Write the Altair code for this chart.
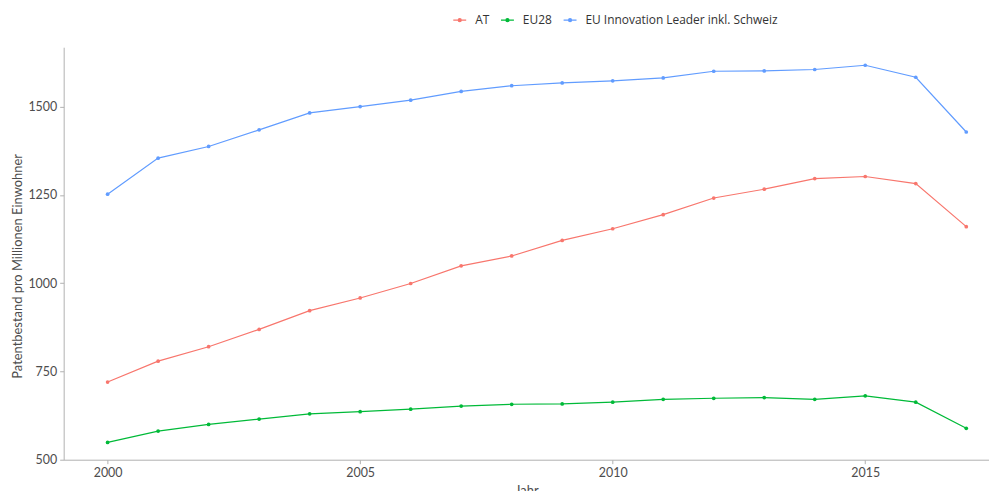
import altair as alt
import pandas as pd

years = list(range(2000, 2018))
series_names = ["AT", "EU28", "EU Innovation Leader inkl. Schweiz"]
at_values = [720, 779, 820, 869, 922, 958, 999, 1049, 1077, 1121, 1154, 1194, 1241, 1266, 1296, 1302, 1282, 1160]
eu28_values = [549, 581, 600, 615, 630, 636, 643, 652, 657, 658, 663, 671, 674, 676, 671, 681, 663, 589]
leader_values = [1252, 1354, 1387, 1434, 1482, 1500, 1518, 1543, 1559, 1567, 1573, 1581, 1600, 1601, 1605, 1617, 1583, 1428]
colors = ["#F8766D", "#00BA38", "#619CFF"]
y_ticks = [500, 750, 1000, 1250, 1500]
x_ticks = [2000, 2005, 2010, 2015]

rows = []
for name, vals in zip(series_names, [at_values, eu28_values, leader_values]):
    for yr, v in zip(years, vals):
        rows.append({"Jahr": yr, "Wert": v, "Gruppe": name})
df = pd.DataFrame(rows)

sym = "M-1,0H1M-0.23,0A0.23,0.23,0,1,0,0.23,0A0.23,0.23,0,1,0,-0.23,0"
legend = alt.Legend(
    title=None, orient="none", direction="horizontal", legendX=391, legendY=-35,
    symbolType=sym, symbolSize=169, symbolStrokeWidth=1.3,
    labelFont="Open Sans", labelFontSize=12, labelColor="#333333", labelLimit=400,
    labelOffset=8, columnPadding=8,
)
color = alt.Color("Gruppe:N", scale=alt.Scale(domain=series_names, range=colors), legend=legend)

x = alt.X("Jahr:Q", title="Jahr",
          scale=alt.Scale(domain=[1999.13, 2017.45], nice=False, zero=False),
          axis=alt.Axis(values=x_ticks, format="d"))
y = alt.Y("Wert:Q", title="Patentbestand pro Millionen Einwohner",
          scale=alt.Scale(domain=[500, 1668], nice=False, zero=False),
          axis=alt.Axis(values=y_ticks, format="d", titleY=220, titlePadding=3))

base = alt.Chart(df)
lines = base.mark_line(strokeWidth=1.2, clip=True).encode(x=x, y=y, color=color)
points = base.mark_point(filled=True, size=14, opacity=1).encode(x=x, y=y, color=color)

chart = alt.layer(lines, points).properties(
    width=931, height=415,
    autosize=alt.AutoSizeParams(type="none"),
    padding={"left": 56, "top": 38, "right": 0, "bottom": 30},
).configure_view(stroke=None).configure_axis(
    grid=False, domainColor="#B0B0B0", domainWidth=1, tickColor="#B0B0B0", tickSize=4,
    labelFont="Lato", labelFontSize=12.5, labelColor="#4D4D4D", labelPadding=3,
    titleFont="Lato", titleFontSize=13, titleFontWeight="normal", titleColor="#4D4D4D",
).configure_axisX(titlePadding=6)

chart.save("out.html", embed_options={"renderer": "svg", "actions": False})
